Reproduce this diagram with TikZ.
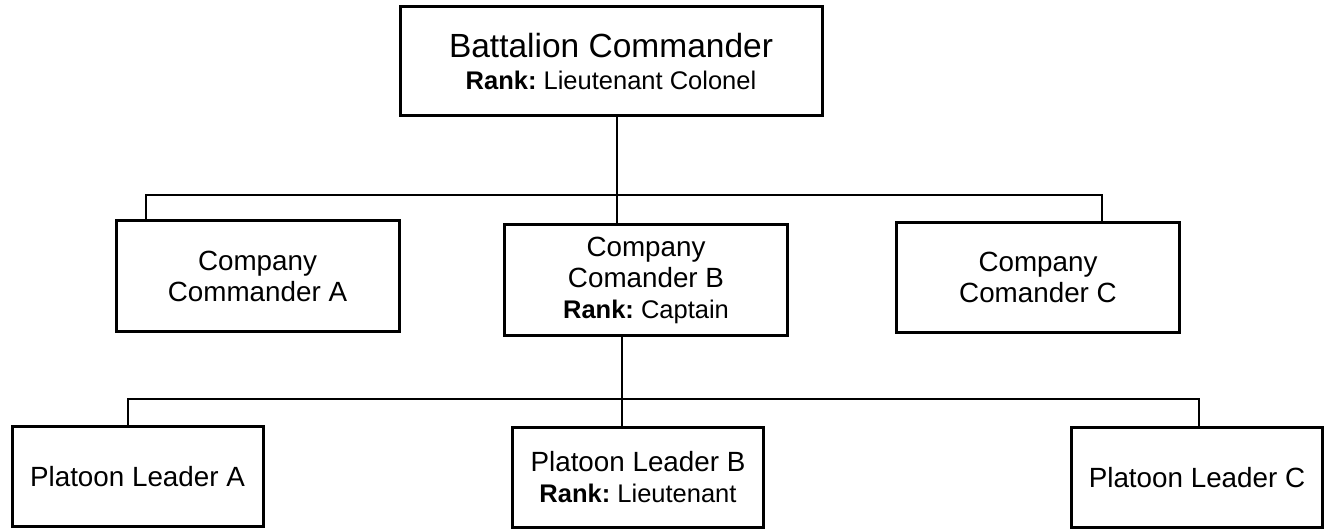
\documentclass[tikz,border=0pt]{standalone}
\usepackage{fontspec}
\setmainfont{Liberation Sans}
\frenchspacing
\newcommand{\rkline}[1]{{\fontsize{25.5}{31}\selectfont\textbf{Rank:} #1}}
\begin{document}
\begin{tikzpicture}[x=1pt,y=-1pt,
  box/.style={draw, line width=3pt, rectangle, inner sep=0pt, align=center,
    font=\fontsize{27.8}{31}\selectfont\frenchspacing},
  cbox/.style={box, minimum width=283pt, minimum height=110pt},
  pbox/.style={box, minimum width=251pt, minimum height=100pt},
  conn/.style={line width=2.8pt, line join=miter}]
\useasboundingbox (0,0) rectangle (1325,529);
\fill[white] (0,0) rectangle (1325,529);

\node[box, minimum width=422pt, minimum height=109pt, font=\fontsize{33.5}{32}\selectfont\frenchspacing] (top) at (611,61.5)
  {Battalion Commander\\{\fontsize{25.5}{32}\selectfont\textbf{Rank:} Lieutenant Colonel}};

\node[cbox] (ca) at (257.5,276) {Company\\Commander A};
\node[cbox] (cb) at (646,280) {Company\\Comander B\\\rkline{Captain}};
\node[cbox] (cc) at (1038,277.5) {Company\\Comander C};

\node[pbox] (pa) at (137.5,476.5) {Platoon Leader A};
\node[pbox] (pb) at (638,477) {Platoon Leader B\\\rkline{Lieutenant}};
\node[pbox] (pc) at (1197,477.5) {Platoon Leader C};

\coordinate (j1) at (617,195);
\coordinate (ja) at (146,195);
\coordinate (jc) at (1102,195);
\coordinate (j2) at (622,399);
\coordinate (jpa) at (128,399);
\coordinate (jpc) at (1199,399);

\draw[conn] (top.south -| j1) -- (cb.north -| j1);
\draw[conn] (ca.north -| ja) -- (ja) -- (jc) -- (cc.north -| jc);
\draw[conn] (cb.south -| j2) -- (pb.north -| j2);
\draw[conn] (pa.north -| jpa) -- (jpa) -- (jpc) -- (pc.north -| jpc);
\end{tikzpicture}
\end{document}
